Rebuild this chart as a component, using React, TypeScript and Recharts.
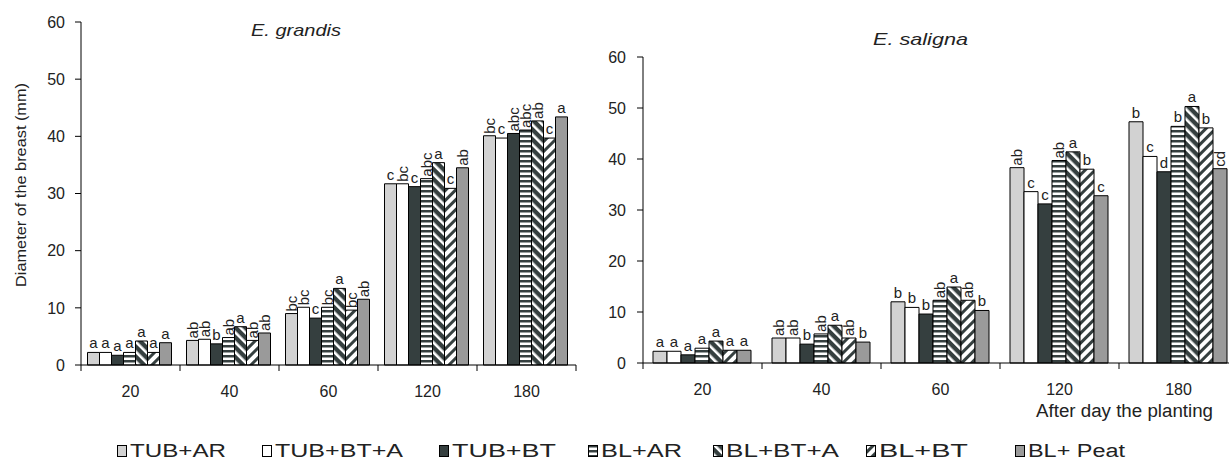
import React from "react";
import { BarChart, Bar, XAxis, YAxis, LabelList } from "recharts";

const days = ["20", "40", "60", "120", "180"];
const treatments = ["TUB+AR", "TUB+BT+A", "TUB+BT", "BL+AR", "BL+BT+A", "BL+BT", "BL+ Peat"];
const yTicks = [0, 10, 20, 30, 40, 50, 60];

// E. grandis, diameter (mm) per treatment
const grandisTubAr = [2.2, 4.3, 9.0, 31.7, 40.1];
const grandisTubBtA = [2.2, 4.5, 10.1, 31.7, 39.7];
const grandisTubBt = [1.7, 3.7, 8.2, 31.2, 40.5];
const grandisBlAr = [2.2, 4.8, 10.1, 32.6, 41.1];
const grandisBlBtA = [4.2, 6.7, 13.4, 35.4, 42.7];
const grandisBlBt = [2.2, 4.3, 9.6, 30.9, 39.7];
const grandisBlPeat = [3.9, 5.6, 11.5, 34.5, 43.4];

const grandisLetters = [
  ["a", "ab", "bc", "c", "bc"],
  ["a", "ab", "bc", "bc", "c"],
  ["a", "b", "c", "c", "abc"],
  ["a", "ab", "bc", "abc", "abc"],
  ["a", "a", "a", "a", "ab"],
  ["a", "ab", "bc", "c", "c"],
  ["a", "ab", "ab", "ab", "a"],
];

// E. saligna
const salignaTubAr = [2.3, 4.9, 12.0, 38.3, 47.3];
const salignaTubBtA = [2.3, 4.9, 10.9, 33.6, 40.5];
const salignaTubBt = [1.6, 3.7, 9.6, 31.2, 37.5];
const salignaBlAr = [2.9, 5.7, 12.3, 39.7, 46.4];
const salignaBlBtA = [4.3, 7.4, 14.9, 41.4, 50.3];
const salignaBlBt = [2.5, 4.9, 12.3, 38.0, 46.1];
const salignaBlPeat = [2.5, 4.1, 10.3, 32.8, 38.1];

const salignaLetters = [
  ["a", "ab", "b", "ab", "b"],
  ["a", "ab", "b", "c", "c"],
  ["a", "b", "b", "c", "d"],
  ["a", "ab", "ab", "ab", "b"],
  ["a", "a", "a", "a", "a"],
  ["a", "ab", "ab", "b", "b"],
  ["a", "b", "b", "c", "cd"],
];

const DARK = "#353f3f";
const fills = ["#d2d2d2", "#ffffff", DARK, "url(#hstripe)", "url(#darkdiag)", "url(#lightdiag)", "#9a9a9a"];
const FONT = "'Liberation Sans', Arial, sans-serif";

function makeRows(values: number[][], letters: string[][]) {
  return days.map((d, i) => {
    const row: any = { day: d };
    values.forEach((v, s) => {
      row["s" + s] = v[i];
      row["l" + s] = letters[s][i];
    });
    return row;
  });
}

const grandisRows = makeRows(
  [grandisTubAr, grandisTubBtA, grandisTubBt, grandisBlAr, grandisBlBtA, grandisBlBt, grandisBlPeat],
  grandisLetters
);
const salignaRows = makeRows(
  [salignaTubAr, salignaTubBtA, salignaTubBt, salignaBlAr, salignaBlBtA, salignaBlBt, salignaBlPeat],
  salignaLetters
);

function Letter(props: any) {
  const { x, y, width, value } = props;
  if (value == null) return null;
  const cx = x + width / 2;
  const s = String(value);
  if (s.length > 1) {
    return (
      <text
        transform={`translate(${cx + 5},${y - 2}) rotate(-90)`}
        textAnchor="start"
        fontSize={15}
        fontFamily={FONT}
        fill="#222"
      >
        {s}
      </text>
    );
  }
  return (
    <text x={cx} y={y - 4} textAnchor="middle" fontSize={15} fontFamily={FONT} fill="#222">
      {s}
    </text>
  );
}

function DayTick(props: any) {
  const { x, y, payload, index, band } = props;
  return (
    <g>
      <line x1={x - band / 2} x2={x - band / 2} y1={y} y2={y + 6} stroke="#000" />
      {index === days.length - 1 && <line x1={x + band / 2} x2={x + band / 2} y1={y} y2={y + 6} stroke="#000" />}
      <text x={x} y={y + 32} textAnchor="middle" fontSize={16} fontFamily={FONT} fill="#222">
        {payload.value}
      </text>
    </g>
  );
}

function Panel({ rows, width, margin, yWidth, tickMargin, gap, band }: any) {
  return (
    <BarChart width={width} height={400} data={rows} margin={margin} barGap={0} barCategoryGap={gap}>
      <XAxis
        dataKey="day"
        axisLine={{ stroke: "#000" }}
        tickLine={false}
        tickSize={0}
        tickMargin={0}
        height={30}
        interval={0}
        tick={(p: any) => <DayTick {...p} band={band} />}
      />
      <YAxis
        domain={[0, 60]}
        ticks={yTicks}
        interval={0}
        width={yWidth}
        tickSize={6}
        tickMargin={tickMargin}
        axisLine={{ stroke: "#000" }}
        tickLine={{ stroke: "#000" }}
        tick={{ fill: "#222", fontSize: 16, fontFamily: FONT }}
      />
      {treatments.map((t, s) => (
        <Bar
          key={t}
          dataKey={"s" + s}
          name={t}
          fill={fills[s]}
          stroke="#000"
          strokeWidth={1}
          isAnimationActive={false}
        >
          <LabelList dataKey={"l" + s} content={Letter} />
        </Bar>
      ))}
    </BarChart>
  );
}

const legendX = [117, 262, 439, 588, 713, 866, 1015];
const legendTextWidth = [96, 128, 104, 81, 113, 89, 97];

export default function App() {
  return (
    <div style={{ position: "relative", width: 1229, height: 462, overflow: "hidden", background: "#fff" }}>
      <style>{"body{margin:0}"}</style>
      <svg width="0" height="0" style={{ position: "absolute" }}>
        <defs>
          <pattern id="hstripe" patternUnits="userSpaceOnUse" width="6" height="5">
            <rect width="6" height="5" fill="#fff" />
            <rect width="6" height="2.5" fill={DARK} />
          </pattern>
          <pattern id="darkdiag" patternUnits="userSpaceOnUse" width="7" height="7" patternTransform="rotate(-45)">
            <rect width="7" height="7" fill={DARK} />
            <rect width="2.6" height="7" fill="#fff" />
          </pattern>
          <pattern id="lightdiag" patternUnits="userSpaceOnUse" width="7" height="7" patternTransform="rotate(45)">
            <rect width="7" height="7" fill="#fff" />
            <rect width="3" height="7" fill={DARK} />
          </pattern>
        </defs>
      </svg>

      <div style={{ position: "absolute", left: 0, top: 0 }}>
        <Panel
          rows={grandisRows}
          width={600}
          margin={{ top: 22, right: 24, bottom: 5, left: 0 }}
          yWidth={81}
          tickMargin={10}
          gap={6.5}
          band={99}
        />
      </div>
      <div style={{ position: "absolute", left: 580, top: 0 }}>
        <Panel
          rows={salignaRows}
          width={680}
          margin={{ top: 57, right: 22, bottom: 7, left: 0 }}
          yWidth={63}
          tickMargin={11}
          gap={10}
          band={119}
        />
      </div>

      <svg width={1229} height={462} style={{ position: "absolute", left: 0, top: 0, pointerEvents: "none" }}>
        <text
          x={251}
          y={36}
          fontSize={17}
          fontStyle="italic"
          fontFamily={FONT}
          fill="#222"
          textLength={90}
          lengthAdjust="spacingAndGlyphs"
        >
          E. grandis
        </text>
        <text
          x={873}
          y={45}
          fontSize={17}
          fontStyle="italic"
          fontFamily={FONT}
          fill="#222"
          textLength={95}
          lengthAdjust="spacingAndGlyphs"
        >
          E. saligna
        </text>
        <text
          transform="translate(26,185) rotate(-90)"
          textAnchor="middle"
          fontSize={15}
          fontFamily={FONT}
          fill="#222"
          textLength={204}
          lengthAdjust="spacingAndGlyphs"
        >
          Diameter of the breast (mm)
        </text>
        <text
          x={1036}
          y={417}
          fontSize={18}
          fontFamily={FONT}
          fill="#222"
          textLength={177}
          lengthAdjust="spacingAndGlyphs"
        >
          After day the planting
        </text>
        {treatments.map((t, s) => (
          <g key={t}>
            <rect x={legendX[s] + 0.5} y={445.5} width={9} height={11} fill={fills[s]} stroke="#000" />
            <text
              x={legendX[s] + 13}
              y={457}
              fontSize={18}
              fontFamily={FONT}
              fill="#222"
              textLength={legendTextWidth[s]}
              lengthAdjust="spacingAndGlyphs"
            >
              {t}
            </text>
          </g>
        ))}
      </svg>
    </div>
  );
}
